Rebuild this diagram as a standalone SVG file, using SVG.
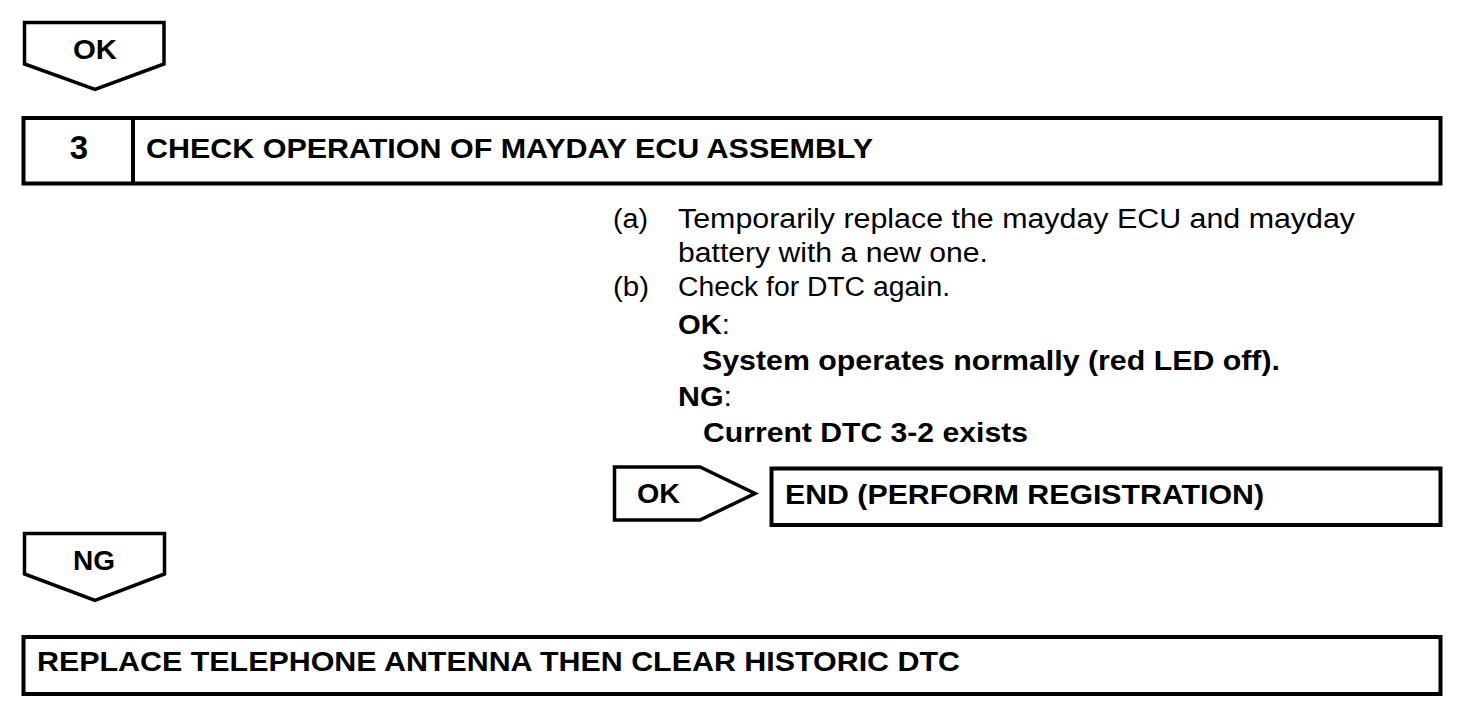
<svg xmlns="http://www.w3.org/2000/svg" width="1472" height="726" viewBox="0 0 1472 726">
  <style>
    .box { fill: #ffffff; stroke: #000000; stroke-width: 4; }
    .arr { fill: #ffffff; stroke: #000000; stroke-width: 3.5; stroke-linejoin: miter; }
    .t { font-family: "Liberation Sans", Arial, Helvetica, sans-serif; fill: #000000; }
    .b { font-weight: bold; }
    .h { font-size: 28px; }
    .r { font-size: 27px; }
    .n { font-weight: normal; }
  </style>
  <rect x="0" y="0" width="1472" height="726" fill="#ffffff"/>

  <g id="connectors">
    <g id="arrow-ok-top">
      <polygon class="arr" points="24.5,22.5 164,22.5 164,64 95,89.5 24.5,64"/>
      <text class="t b h" x="73" y="59" textLength="44" lengthAdjust="spacingAndGlyphs">OK</text>
    </g>
    <g id="arrow-ok-right">
      <polygon class="arr" points="614.5,467 700,467 755,493.5 700,520 614.5,520"/>
      <text class="t b h" x="637" y="503" textLength="43" lengthAdjust="spacingAndGlyphs">OK</text>
    </g>
    <g id="arrow-ng">
      <polygon class="arr" points="24.5,533.5 164.5,533.5 164.5,574 95,600.5 24.5,574"/>
      <text class="t b h" x="73" y="570" textLength="42" lengthAdjust="spacingAndGlyphs">NG</text>
    </g>
  </g>

  <g id="step3">
    <rect class="box" x="23.5" y="118" width="1417" height="65.5"/>
    <line x1="133" y1="118" x2="133" y2="183.5" stroke="#000000" stroke-width="4"/>
    <text class="t b" x="79" y="159" font-size="33" text-anchor="middle">3</text>
    <text class="t b h" x="146" y="158" textLength="727" lengthAdjust="spacingAndGlyphs">CHECK OPERATION OF MAYDAY ECU ASSEMBLY</text>
  </g>

  <g id="instructions">
    <text class="t r" x="613" y="228" textLength="35" lengthAdjust="spacingAndGlyphs">(a)</text>
    <text class="t r" x="678" y="228" textLength="677" lengthAdjust="spacingAndGlyphs">Temporarily replace the mayday ECU and mayday</text>
    <text class="t r" x="678" y="262" textLength="310" lengthAdjust="spacingAndGlyphs">battery with a new one.</text>
    <text class="t r" x="613" y="296" textLength="36" lengthAdjust="spacingAndGlyphs">(b)</text>
    <text class="t r" x="678" y="296" textLength="272" lengthAdjust="spacingAndGlyphs">Check for DTC again.</text>
    <text class="t r b" x="678" y="334" textLength="52" lengthAdjust="spacingAndGlyphs">OK<tspan class="n">:</tspan></text>
    <text class="t r b" x="702" y="370" textLength="578" lengthAdjust="spacingAndGlyphs">System operates normally (red LED off).</text>
    <text class="t r b" x="678" y="406" textLength="54" lengthAdjust="spacingAndGlyphs">NG<tspan class="n">:</tspan></text>
    <text class="t r b" x="703" y="442" textLength="325" lengthAdjust="spacingAndGlyphs">Current DTC 3-2 exists</text>
  </g>

  <g id="end-box">
    <rect class="box" x="771.5" y="468.5" width="669" height="56.5"/>
    <text class="t b h" x="785" y="504" textLength="479" lengthAdjust="spacingAndGlyphs">END (PERFORM REGISTRATION)</text>
  </g>

  <g id="replace-box">
    <rect class="box" x="23.5" y="637" width="1417" height="57"/>
    <text class="t b h" x="37" y="671" textLength="923" lengthAdjust="spacingAndGlyphs">REPLACE TELEPHONE ANTENNA THEN CLEAR HISTORIC DTC</text>
  </g>
</svg>
